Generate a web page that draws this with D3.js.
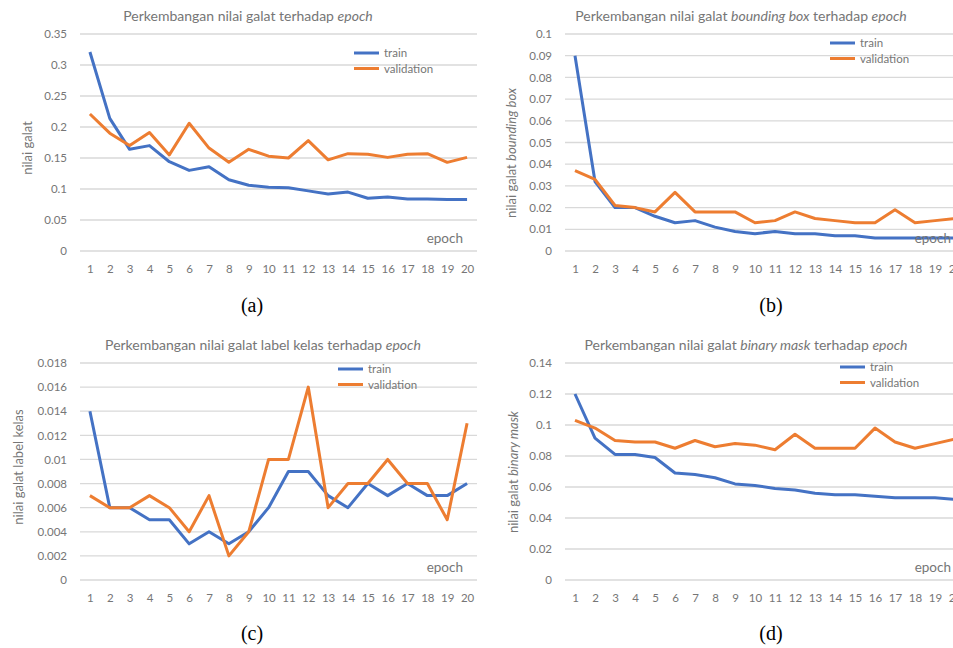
<!DOCTYPE html>
<html>
<head>
<meta charset="utf-8">
<script src="https://cdn.jsdelivr.net/npm/d3@7"></script>
<style>
  html, body { margin: 0; padding: 0; background: #fff; }
  svg { display: block; overflow: hidden; }
</style>
</head>
<body>
<svg id="chart" width="953" height="648"></svg>
<script>
// Epoch categories shared by all panels
const epochs = d3.range(1, 21);

// (a) overall loss
const totalTrain = [0.321, 0.214, 0.164, 0.170, 0.144, 0.130, 0.136, 0.115, 0.106, 0.103,
                    0.102, 0.097, 0.092, 0.095, 0.085, 0.087, 0.084, 0.084, 0.083, 0.083];
const totalVal   = [0.221, 0.190, 0.170, 0.191, 0.155, 0.206, 0.166, 0.143, 0.164, 0.153,
                    0.150, 0.178, 0.147, 0.157, 0.156, 0.151, 0.156, 0.157, 0.143, 0.151];
const totalTicks = [0, 0.05, 0.1, 0.15, 0.2, 0.25, 0.3, 0.35];

// (b) bounding box loss
const bboxTrain = [0.090, 0.032, 0.020, 0.020, 0.016, 0.013, 0.014, 0.011, 0.009, 0.008,
                   0.009, 0.008, 0.008, 0.007, 0.007, 0.006, 0.006, 0.006, 0.006, 0.006];
const bboxVal   = [0.037, 0.033, 0.021, 0.020, 0.018, 0.027, 0.018, 0.018, 0.018, 0.013,
                   0.014, 0.018, 0.015, 0.014, 0.013, 0.013, 0.019, 0.013, 0.014, 0.015];
const bboxTicks = [0, 0.01, 0.02, 0.03, 0.04, 0.05, 0.06, 0.07, 0.08, 0.09, 0.1];

// (c) class label loss
const classTrain = [0.014, 0.006, 0.006, 0.005, 0.005, 0.003, 0.004, 0.003, 0.004, 0.006,
                    0.009, 0.009, 0.007, 0.006, 0.008, 0.007, 0.008, 0.007, 0.007, 0.008];
const classVal   = [0.007, 0.006, 0.006, 0.007, 0.006, 0.004, 0.007, 0.002, 0.004, 0.010,
                    0.010, 0.016, 0.006, 0.008, 0.008, 0.010, 0.008, 0.008, 0.005, 0.013];
const classTicks = [0, 0.002, 0.004, 0.006, 0.008, 0.01, 0.012, 0.014, 0.016, 0.018];

// (d) binary mask loss
const maskTrain = [0.120, 0.0915, 0.081, 0.081, 0.079, 0.069, 0.068, 0.066, 0.062, 0.061,
                   0.059, 0.058, 0.056, 0.055, 0.055, 0.054, 0.053, 0.053, 0.053, 0.052];
const maskVal   = [0.103, 0.098, 0.090, 0.089, 0.089, 0.085, 0.090, 0.086, 0.088, 0.087,
                   0.084, 0.094, 0.085, 0.085, 0.085, 0.098, 0.089, 0.085, 0.088, 0.091];
const maskTicks = [0, 0.02, 0.04, 0.06, 0.08, 0.1, 0.12, 0.14];

const seriesNames = ["train", "validation"];
const captions = ["(a)", "(b)", "(c)", "(d)"];

const COLORS = { train: "#4472C4", validation: "#ED7D31" };
const GRID = "#d9d9d9";
const TEXT = "#767676";
const SANS = "Lato, 'Open Sans', sans-serif";
const SERIF = "'Liberation Serif', 'Times New Roman', serif";

const svg = d3.select("#chart");
svg.append("rect").attr("width", 953).attr("height", 648).attr("fill", "#fff");

const panels = [
  { train: totalTrain, val: totalVal, ticks: totalTicks,
    x0: 80, x1: 477, yTop: 34, yBot: 251,
    title: [["Perkembangan nilai galat terhadap ", false], ["epoch", true]], titleX: 248,
    yTitle: [["nilai galat", false]], yTitleX: 27, yTitleY: 148,
    legendX: 354, legendY: 53, epochX: 463, caption: [252, 312] },
  { train: bboxTrain, val: bboxVal, ticks: bboxTicks,
    x0: 565, x1: 965, yTop: 34, yBot: 251,
    title: [["Perkembangan nilai galat ", false], ["bounding box", true], [" terhadap ", false], ["epoch", true]], titleX: 741,
    yTitle: [["nilai galat ", false], ["bounding box", true]], yTitleX: 511, yTitleY: 153,
    legendX: 830, legendY: 43, epochX: 951, caption: [771, 312] },
  { train: classTrain, val: classVal, ticks: classTicks,
    x0: 80, x1: 477, yTop: 363, yBot: 580,
    title: [["Perkembangan nilai galat label kelas terhadap ", false], ["epoch", true]], titleX: 263,
    yTitle: [["nilai galat label kelas", false]], yTitleX: 18, yTitleY: 467,
    legendX: 338, legendY: 369, epochX: 463, caption: [252, 640] },
  { train: maskTrain, val: maskVal, ticks: maskTicks,
    x0: 565, x1: 965, yTop: 363, yBot: 580,
    title: [["Perkembangan nilai galat ", false], ["binary mask", true], [" terhadap ", false], ["epoch", true]], titleX: 746,
    yTitle: [["nilai galat ", false], ["binary mask", true]], yTitleX: 513, yTitleY: 472,
    legendX: 840, legendY: 367, epochX: 951, caption: [771, 640] }
];

const fmt = d => String(+d.toFixed(4));

function addRuns(textSel, runs) {
  runs.forEach(([s, it]) => {
    textSel.append("tspan").text(s).attr("font-style", it ? "italic" : "normal");
  });
}

panels.forEach((p, i) => {
  const g = svg.append("g").style("font-family", SANS);
  const x = d3.scalePoint().domain(epochs).range([p.x0, p.x1]).padding(0.5);
  const y = d3.scaleLinear().domain([0, d3.max(p.ticks)]).range([p.yBot, p.yTop]);

  // horizontal gridlines
  g.append("g").selectAll("line").data(p.ticks).join("line")
    .attr("x1", p.x0).attr("x2", p.x1)
    .attr("y1", d => y(d)).attr("y2", d => y(d))
    .attr("stroke", GRID).attr("stroke-width", 1.3);

  // y axis labels
  const ya = g.append("g").attr("transform", `translate(${p.x0 - 13},0)`)
    .call(d3.axisLeft(y).tickValues(p.ticks).tickFormat(fmt).tickSize(0).tickPadding(0));
  ya.select(".domain").remove();
  ya.selectAll("text").attr("fill", TEXT).attr("font-size", 11.5).style("font-family", SANS);

  // x axis labels
  const xa = g.append("g").attr("transform", `translate(0,${p.yBot + 14})`)
    .call(d3.axisBottom(x).tickSize(0).tickPadding(0));
  xa.select(".domain").remove();
  xa.selectAll("text").attr("fill", TEXT).attr("font-size", 11.5).style("font-family", SANS);

  // lines
  const line = d3.line().x((d, j) => x(epochs[j])).y(d => y(d));
  [["train", p.train], ["validation", p.val]].forEach(([name, vals]) => {
    g.append("path").datum(vals)
      .attr("d", line)
      .attr("fill", "none")
      .attr("stroke", COLORS[name])
      .attr("stroke-width", 3)
      .attr("stroke-linejoin", "round");
  });

  // title
  const t = g.append("text").attr("x", p.titleX).attr("y", p.yTop - 13)
    .attr("text-anchor", "middle").attr("font-size", 14).attr("fill", TEXT);
  addRuns(t, p.title);

  // y title
  const yt = g.append("text")
    .attr("transform", `translate(${p.yTitleX},${p.yTitleY}) rotate(-90)`)
    .attr("text-anchor", "middle").attr("dy", "0.35em")
    .attr("font-size", 13).attr("fill", TEXT);
  addRuns(yt, p.yTitle);

  // "epoch" label inside plot
  g.append("text").attr("x", p.epochX).attr("y", p.yBot - 8)
    .attr("text-anchor", "end").attr("font-size", 13.5).attr("fill", TEXT).text("epoch");

  // legend
  const lg = g.append("g").attr("transform", `translate(${p.legendX},${p.legendY})`);
  seriesNames.forEach((name, k) => {
    const row = lg.append("g").attr("transform", `translate(0,${k * 15.5})`);
    row.append("line").attr("x1", 0).attr("x2", 25).attr("y1", 0).attr("y2", 0)
      .attr("stroke", COLORS[name]).attr("stroke-width", 3);
    row.append("text").attr("x", 30).attr("dy", "0.35em")
      .attr("font-size", 11.5).attr("fill", TEXT).text(name);
  });

  // caption
  svg.append("text").attr("x", p.caption[0]).attr("y", p.caption[1])
    .attr("text-anchor", "middle")
    .style("font-family", SERIF)
    .attr("font-size", 20).attr("fill", "#000").text(captions[i]);
});
</script>
</body>
</html>
